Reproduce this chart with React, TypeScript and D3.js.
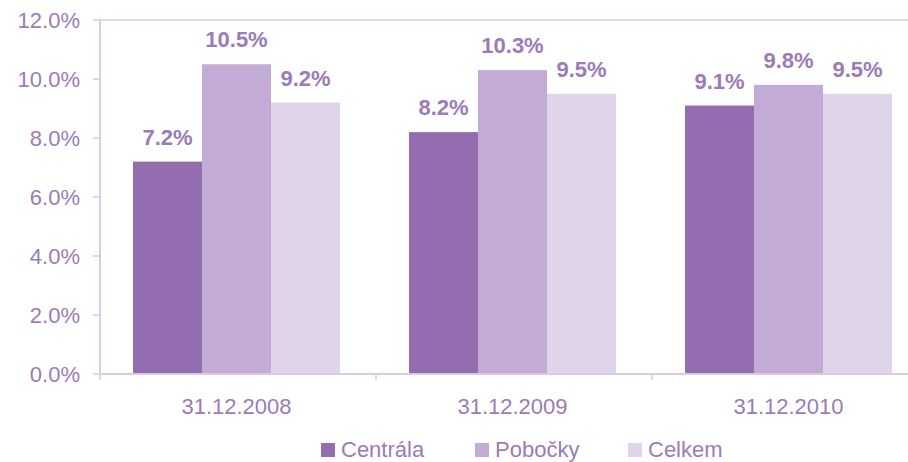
import React, { useEffect, useRef } from 'react';
import * as d3 from 'd3';

const dates = ['31.12.2008', '31.12.2009', '31.12.2010'];
const seriesNames = ['Centrála', 'Pobočky', 'Celkem'];
const centrala = [7.2, 8.2, 9.1];
const pobocky = [10.5, 10.3, 9.8];
const celkem = [9.2, 9.5, 9.5];
const yTicks = [0, 2, 4, 6, 8, 10, 12];
const colors = ['#946db0', '#c2abd4', '#e0d4ea'];

const textColor = '#9b7bb8';
const lineColor = '#d9cae6';

const App = () => {
  const ref = useRef<SVGSVGElement>(null);

  useEffect(() => {
    const svg = d3.select(ref.current);
    svg.selectAll('*').remove();

    const values = [centrala, pobocky, celkem];
    const left = 100;
    const top = 20;
    const bottom = 374;

    const x0 = d3.scaleBand<string>()
      .domain(dates)
      .range([left - 1.5, 926.5])
      .paddingInner(0.25)
      .paddingOuter(0.125);

    const x1 = d3.scaleBand<string>()
      .domain(seriesNames)
      .range([0, x0.bandwidth()]);

    const y = d3.scaleLinear().domain([0, 12]).range([bottom, top]);

    const font = 'Liberation Sans, Arial, sans-serif';

    // plot frame: top and left + bottom axis
    svg.append('line')
      .attr('x1', left).attr('x2', 908)
      .attr('y1', top).attr('y2', top)
      .attr('stroke', '#e3d7ee').attr('stroke-width', 2);

    svg.append('line')
      .attr('x1', left).attr('x2', left)
      .attr('y1', top).attr('y2', bottom)
      .attr('stroke', lineColor).attr('stroke-width', 2);

    // y ticks + labels
    const yg = svg.append('g');
    yg.selectAll('line')
      .data(yTicks)
      .join('line')
      .attr('x1', left - 7).attr('x2', left)
      .attr('y1', d => y(d)).attr('y2', d => y(d))
      .attr('stroke', lineColor).attr('stroke-width', 1.5);

    yg.selectAll('text')
      .data(yTicks)
      .join('text')
      .attr('x', 80)
      .attr('y', d => y(d))
      .attr('dy', '0.36em')
      .attr('text-anchor', 'end')
      .attr('font-family', font)
      .attr('font-size', 22)
      .attr('fill', textColor)
      .text(d => d3.format('.1f')(d) + '%');

    // bars
    dates.forEach((date, i) => {
      const g = svg.append('g').attr('transform', `translate(${x0(date)},0)`);
      seriesNames.forEach((name, j) => {
        const v = values[j][i];
        g.append('rect')
          .attr('x', x1(name)!)
          .attr('y', y(v))
          .attr('width', x1.bandwidth())
          .attr('height', bottom - y(v))
          .attr('fill', colors[j]);
        g.append('text')
          .attr('x', x1(name)! + x1.bandwidth() / 2)
          .attr('y', y(v) - 17)
          .attr('text-anchor', 'middle')
          .attr('font-family', font)
          .attr('font-size', 22)
          .attr('font-weight', 'bold')
          .attr('fill', textColor)
          .text(v.toFixed(1) + '%');
      });
    });

    // x axis
    svg.append('line')
      .attr('x1', left).attr('x2', 908)
      .attr('y1', bottom).attr('y2', bottom)
      .attr('stroke', lineColor).attr('stroke-width', 2);

    const step = x0.step();
    svg.selectAll('.sep')
      .data(d3.range(dates.length + 1))
      .join('line')
      .attr('x1', d => left + d * step).attr('x2', d => left + d * step)
      .attr('y1', bottom).attr('y2', bottom + 6)
      .attr('stroke', lineColor).attr('stroke-width', 1.5);

    svg.selectAll('.xl')
      .data(dates)
      .join('text')
      .attr('x', d => x0(d)! + x0.bandwidth() / 2)
      .attr('y', 414)
      .attr('text-anchor', 'middle')
      .attr('font-family', font)
      .attr('font-size', 22)
      .attr('fill', textColor)
      .text(d => d);

    // legend
    const legendX = [321, 475, 628];
    seriesNames.forEach((name, j) => {
      svg.append('rect')
        .attr('x', legendX[j]).attr('y', 443)
        .attr('width', 14).attr('height', 14)
        .attr('fill', colors[j]);
      svg.append('text')
        .attr('x', legendX[j] + 20)
        .attr('y', 457)
        .attr('font-family', font)
        .attr('font-size', 22)
        .attr('fill', textColor)
        .text(name);
    });
  }, []);

  return (
    <div style={{ position: 'absolute', left: 0, top: 0 }}>
      <svg ref={ref} width={908} height={462} style={{ display: 'block', background: '#fff' }}></svg>
    </div>
  );
};

export default App;
